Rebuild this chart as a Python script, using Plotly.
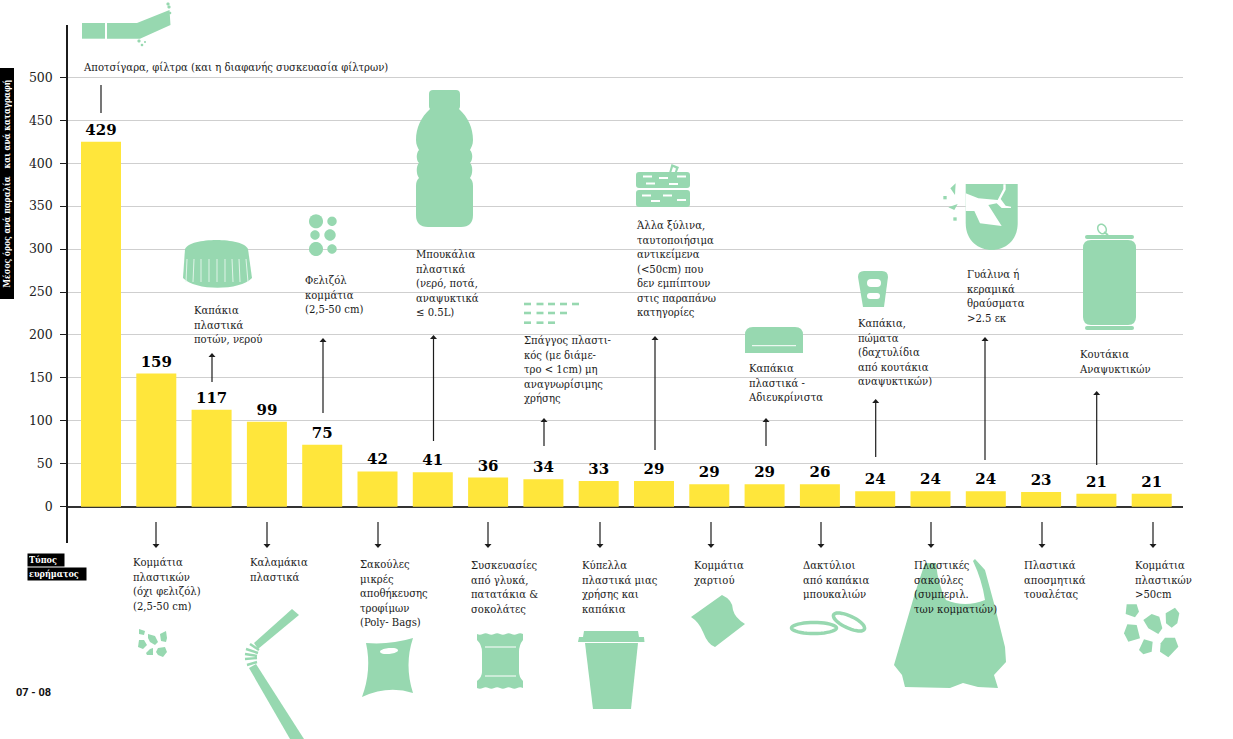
import re
import math
import plotly.graph_objects as go

# ---------- data ----------
categories = [
    "Αποτσίγαρα, φίλτρα (και η διαφανής συσκευασία φίλτρων)",
    "Κομμάτια<br>πλαστικών<br>(όχι φελιζόλ)<br>(2,5-50 cm)",
    "Καπάκια<br>πλαστικά<br>ποτών, νερού",
    "Καλαμάκια<br>πλαστικά",
    "Φελιζόλ<br>κομμάτια<br>(2,5-50 cm)",
    "Σακούλες<br>μικρές<br>αποθήκευσης<br>τροφίμων<br>(Poly- Bags)",
    "Μπουκάλια<br>πλαστικά<br>(νερό, ποτά,<br>αναψυκτικά<br>≤ 0.5L)",
    "Συσκευασίες<br>από γλυκά,<br>πατατάκια &amp;<br>σοκολάτες",
    "Σπάγγος πλαστι-<br>κός (με διάμε-<br>τρο &lt; 1cm) μη<br>αναγνωρίσιμης<br>χρήσης",
    "Κύπελλα<br>πλαστικά μιας<br>χρήσης και<br>καπάκια",
    "Άλλα ξύλινα,<br>ταυτοποιήσιμα<br>αντικείμενα<br>(&lt;50cm) που<br>δεν εμπίπτουν<br>στις παραπάνω<br>κατηγορίες",
    "Κομμάτια<br>χαρτιού",
    "Καπάκια<br>πλαστικά -<br>Αδιευκρίνιστα",
    "Δακτύλιοι<br>από καπάκια<br>μπουκαλιών",
    "Καπάκια,<br>πώματα<br>(δαχτυλίδια<br>από κουτάκια<br>αναψυκτικών)",
    "Πλαστικές<br>σακούλες<br>(συμπεριλ.<br>των κομματιών)",
    "Γυάλινα ή<br>κεραμικά<br>θραύσματα<br>&gt;2.5 εκ",
    "Πλαστικά<br>αποσμητικά<br>τουαλέτας",
    "Κουτάκια<br>Αναψυκτικών",
    "Κομμάτια<br>πλαστικών<br>&gt;50cm",
]
bar_heights = [425, 155, 113, 99, 72, 41, 40, 34, 32, 30, 30, 26, 26, 26, 18, 18, 18, 17, 15, 15]
value_labels = ["429", "159", "117", "99", "75", "42", "41", "36", "34", "33",
                "29", "29", "29", "26", "24", "24", "24", "23", "21", "21"]
y_ticks = [0, 50, 100, 150, 200, 250, 300, 350, 400, 450, 500]
y_title = "Μέσος όρος ανά παραλία\u00a0\u00a0\u00a0και ανά καταγραφή"
type_labels = ["Τύπος", "ευρήματος"]
page_label = "07 - 08"

# ---------- style / layout helpers ----------
W, H = 1233, 739
GREEN = "#97D8B0"
YELLOW = "#FFE63B"
DARK = "#1c1c1c"
SERIF = "'DejaVu Serif Condensed', 'DejaVu Serif', serif"
PLOT_L, PLOT_R, PLOT_T, PLOT_B = 68, 1183, 25, 543
ZERO_PX, PX_PER_UNIT = 506.7, 0.8588
BAR_C0, BAR_STEP, BAR_W = 101, 55.3, 40

def px(x):
    return x / W
def py(y):
    return 1 - y / H

def convert(path):
    toks = re.findall(r"[MLQCZ]|-?\d+\.?\d*", path)
    out, is_x = [], True
    for t in toks:
        if t in "MLQCZ":
            out.append(t)
            is_x = True
        else:
            v = float(t)
            out.append(f"{px(v):.5f}" if is_x else f"{py(v):.5f}")
            is_x = not is_x
    return " ".join(out)

shapes = []
def fill(path, color=GREEN):
    shapes.append(dict(type="path", xref="paper", yref="paper", path=convert(path),
                       fillcolor=color, line=dict(width=0), layer="above"))
def poly(points, color=GREEN):
    fill("M" + " L".join(f"{x:.2f},{y:.2f}" for x, y in points) + " Z", color)
def rect(x0, y0, x1, y1, color=GREEN):
    poly([(x0, y0), (x1, y0), (x1, y1), (x0, y1)], color)
def rrect(x0, y0, x1, y1, r, color=GREEN):
    fill(f"M{x0+r},{y0} L{x1-r},{y0} Q{x1},{y0} {x1},{y0+r} L{x1},{y1-r} Q{x1},{y1} {x1-r},{y1} "
         f"L{x0+r},{y1} Q{x0},{y1} {x0},{y1-r} L{x0},{y0+r} Q{x0},{y0} {x0+r},{y0} Z", color)
def seg(x0, y0, x1, y1, color=DARK, width=1.2):
    shapes.append(dict(type="line", xref="paper", yref="paper", x0=px(x0), y0=py(y0), x1=px(x1), y1=py(y1),
                       line=dict(color=color, width=width), layer="above"))
def ellipse(cx, cy, rx, ry, rot=0, n=40):
    a = math.radians(rot)
    return [(cx + rx*math.cos(t)*math.cos(a) - ry*math.sin(t)*math.sin(a),
             cy + rx*math.cos(t)*math.sin(a) + ry*math.sin(t)*math.cos(a))
            for t in [2*math.pi*i/n for i in range(n)]]
def disc(cx, cy, r, color=GREEN):
    poly(ellipse(cx, cy, r, r), color)
def ring(cx, cy, rx, ry, rot=0, width=3.5):
    pts = ellipse(cx, cy, rx, ry, rot)
    shapes.append(dict(type="path", xref="paper", yref="paper",
                       path=convert("M" + " L".join(f"{x:.1f},{y:.1f}" for x, y in pts) + " Z"),
                       line=dict(color=GREEN, width=width), layer="above"))
def crop(x0, y0, pts):
    return [(x0 + x / 3, y0 + y / 3) for x, y in pts]

# ---------- arrows ----------
seg(101, 85, 101, 113)
for x, y0, y1 in [(212, 382, 353), (323, 413, 338), (433.5, 441, 335), (544, 446, 418), (655, 450, 336),
                  (766, 446, 418), (875.7, 457, 399), (985, 460, 337), (1096.7, 465, 391)]:
    seg(x, y0, x, y1 + 2)
    poly([(x, y1), (x + 3.5, y1 + 4), (x - 3.5, y1 + 4)], DARK)
for x in [156, 267, 378, 488, 600, 711, 821, 931, 1042, 1153]:
    seg(x, 522, x, 546)
    poly([(x - 3.5, 544), (x + 3.5, 544), (x, 548)], DARK)

# ---------- pictograms ----------
# cigarette
rect(82, 23, 105, 38.7)
poly([(107, 23), (137, 23), (169.5, 10), (170.5, 25), (140, 38.7), (107, 38.7)])
for x, y, r in [(168, 4, 1.6), (169, 7, 1.6), (170, 13, 1.3), (139, 41, 1.6), (142, 45, 1.3), (145, 42, 1)]:
    disc(x, y, r)
# bottle cap
fill("M185,249 C190,237 243,237 248,249 L252,278 C240,291 195,291 183,278 Z")
for x0, x1 in [(187, 186), (194, 193), (201, 201), (209, 209), (217, 217), (225, 225), (232, 233), (239, 240), (246, 248)]:
    seg(x0, 259, x1, 282, "#e8f7ee", 0.9)
# styrofoam
for x, y, r in [(316, 221.3, 7), (332, 221.3, 4.7), (315, 235, 4.7), (330, 235, 5.7), (316, 249, 7), (332, 249, 4.7)]:
    disc(x, y, r)
# bottle
rrect(429, 90, 460, 110, 4)
fill("M430,109 C421,117 416,128 416,140 C416,145 418,148 419,150 C416,153 416,160 419,163 "
     "C416,166 416,174 419,178 C417,180 416,182 416,186 L416,215 Q416,227 428,227 L461,227 "
     "Q473,227 473,215 L473,186 C473,182 472,180 470,178 C473,174 473,166 470,163 "
     "C473,160 473,153 470,150 C471,148 473,145 473,140 C473,128 468,117 459,109 Z")
# twine
for row, xs in [(304, [524, 536.5, 548, 560, 572]), (313, [524, 536.5, 548, 560]), (322.7, [524, 536.5, 548])]:
    for x in xs:
        rect(x, row - 1.3, x + 7, row + 1.3)
# wood
rrect(636, 172, 690, 188, 3)
rrect(636, 190, 690, 207, 3)
poly([(669, 173), (671.5, 164), (679, 167), (676.5, 173), (674.5, 173), (676, 168.5), (673, 167), (671, 173)])
for x, y, w in [(643, 176.5, 9), (659, 178, 9), (677, 176.5, 9), (646, 183.5, 9), (669, 184, 9),
                (642, 195.5, 9), (663, 195.5, 9), (677, 200, 9), (651, 201, 9)]:
    rect(x, y - 1, x + w, y + 1, "white")
# generic cap
fill("M745,353 L745,335 Q745,327 753,327 L795,327 Q803,327 803,335 L803,353 Z")
seg(752, 345.7, 796, 345.7, "white", 1)
# pull-ring cap
fill("M858,277 Q858,271 864,271 L882,271 Q888,271 888,277 L884,307 L863,307 Z")
rrect(867, 279, 881, 287, 4, "white")
rrect(867, 293, 880, 299, 3, "white")
# glass
fill("M965.7,184 L1017.7,184 L1017.7,223 C1017.7,259 965.7,259 965.7,223 Z")
poly(crop(935, 175, [(92, 55), (130, 70), (188, 75), (205, 42), (205, 28), (212, 28), (212, 44), (197, 72),
                     (212, 92), (228, 95), (228, 99), (200, 99), (185, 85), (160, 90), (200, 153), (135, 145),
                     (118, 108), (92, 108)]), "white")
poly(crop(935, 175, [(62, 25), (46, 40), (60, 60)]))
poly(crop(935, 175, [(25, 63), (35, 63), (35, 73), (25, 73)]))
poly(crop(935, 175, [(68, 87), (40, 97), (58, 105)]))
poly(crop(935, 175, [(55, 127), (65, 127), (65, 137), (55, 137)]))
# can
rrect(1085, 235, 1134, 239, 2)
rrect(1083, 240, 1136, 325, 8)
rrect(1085, 326, 1134, 330, 2)
ring(1102, 229, 4, 5, -30, 1.5)
seg(1104, 232, 1108, 235, GREEN, 2)
# small fragments
for pts in [[(139, 629), (145, 631), (144, 635), (139, 634)],
            [(148, 634), (155, 636), (158, 642), (155, 645), (150, 642), (148, 638)],
            [(160, 634), (166, 631), (167, 638), (166, 642), (161, 641)],
            [(139, 640), (144, 640), (147, 645), (143, 649), (138, 647)],
            [(150, 649), (153, 648), (153, 655), (147, 655), (146, 653)],
            [(158, 648), (165, 647), (167, 652), (163, 657), (158, 655), (156, 652)]]:
    poly(pts)
# straw
poly([(292, 609), (299, 615), (258, 649), (254, 643)])
poly([(249, 668), (256, 664), (304, 739), (290, 739)])
for x0, y0, x1, y1 in [(250, 644, 259, 650), (246, 649, 258, 653), (245, 654, 257, 656), (245, 659, 257, 658), (247, 665, 257, 662)]:
    seg(x0, y0, x1, y1, GREEN, 2.4)
# small bag
fill("M366,643 Q390,645 413,638 Q404,665 413,693 Q388,685 362,697 Q372,670 366,643 Z")
poly(ellipse(389, 651, 9, 3, -5), "white")
# snack pack
top = "M477,634 " + " ".join(f"Q{477+2.9+5.75*i:.1f},{632.5 + 3*((i+1)%2)} {477+5.75*(i+1):.1f},634" for i in range(8))
bot = " ".join(f"Q{523-2.9-5.75*i:.1f},{686.5 + 3*(i%2)} {523-5.75*(i+1):.1f},688" for i in range(8))
fill(top + " L523,640 Q519,645 519,652 L519,672 Q519,677 523,681 L523,688 " + bot + " L477,681 Q482,677 482,672 L482,652 Q482,645 477,640 Z")
seg(485, 647, 516, 647, "white", 1)
seg(485, 676, 516, 676, "white", 1)
# cup
poly([(584, 631), (638, 631), (639, 637), (583, 637)])
poly([(579, 637), (644, 637), (644.5, 642), (578, 642)])
poly([(585, 643), (638, 643), (631, 709), (593, 709)])
# paper scrap
fill("M691,617 L722,595 Q733,600 733,610 Q735,618 745,624 L715,647 Q708,645 703,632 Q699,622 691,617 Z")
# rings
ring(814, 628, 22.5, 5.5)
ring(849, 622, 17, 6, 25)
# large bag
fill("M975,559 L985,570 L995,607 L1005,647 L1006,662 L994,675 L998,688 L978,687 L963,683 L950,688 L905,687 "
     "L902,675 L894,665 L915,593 L925,563 L936,563 Q938,585 946,600 Q965,608 985,600 Q982,580 973,561 Z")
# large fragments
for pts in [[(1010, 283), (1040, 283), (1047, 305), (1035, 322), (1007, 312)],
            [(1085, 312), (1108, 320), (1117, 355), (1105, 372), (1075, 355), (1060, 330)],
            [(1155, 293), (1168, 310), (1162, 340), (1145, 353), (1128, 340), (1127, 310)],
            [(1012, 343), (1040, 345), (1050, 385), (1015, 395), (1002, 370)],
            [(1062, 388), (1088, 395), (1085, 425), (1060, 433), (1047, 420)],
            [(1125, 383), (1155, 383), (1165, 410), (1135, 442), (1110, 425), (1112, 400)]]:
    poly(crop(790, 510, pts))

# ---------- text ----------
label_pos = [(82, 60), (132, 555), (193, 303), (249, 555), (304, 273), (359, 557), (415, 247), (470, 558),
             (523, 333), (581, 558), (635, 218), (693, 558), (747, 361), (802, 558), (857, 316), (913, 558),
             (966, 267), (1023, 558), (1078, 347), (1134, 558)]
ann = []
for text, (x, y) in zip(categories, label_pos):
    ann.append(dict(xref="paper", yref="paper", x=px(x), y=py(y), xanchor="left", yanchor="top",
                    align="left", text=text, showarrow=False, borderpad=0,
                    font=dict(family=SERIF, size=11.2, color="#1a1a1a")))
ann.append(dict(xref="paper", yref="paper", x=px(7), y=py(183.5), textangle=-90, text=f"<b>{y_title}</b>", showarrow=False,
                xanchor="center", yanchor="middle", bgcolor="black", borderpad=1, width=228, height=11,
                font=dict(family=SERIF, size=8.5, color="white")))
for text, x, y, w in zip(type_labels, [27, 27], [560, 574], [36, 58]):
    ann.append(dict(xref="paper", yref="paper", x=px(x), y=py(y), xanchor="left", yanchor="middle", align="left",
                    text=f"<b>{text}</b>", showarrow=False, bgcolor="black", borderpad=1, width=w - 2,
                    font=dict(family=SERIF, size=9, color="white")))
ann.append(dict(xref="paper", yref="paper", x=px(14), y=py(692), xanchor="left", yanchor="middle",
                text=f"<b>{page_label}</b>", showarrow=False,
                font=dict(family="'Liberation Sans Narrow', 'Roboto', sans-serif", size=11, color="#111")))

# ---------- figure ----------
fig = go.Figure(go.Bar(
    x=categories, y=bar_heights, width=BAR_W / BAR_STEP, marker=dict(color=YELLOW, line=dict(width=0)),
    text=[f"<b>{v}</b>" for v in value_labels], textposition="outside", cliponaxis=False,
    textfont=dict(family="'DejaVu Serif', serif", size=15, color="black"), textangle=0,
    hoverinfo="x+y", showlegend=False))

fig.update_layout(
    width=W, height=H, margin=dict(l=0, r=0, t=0, b=0), autosize=False,
    paper_bgcolor="white", plot_bgcolor="white", shapes=shapes, annotations=ann,
    xaxis=dict(domain=[px(PLOT_L), px(PLOT_R)], type="category", categoryorder="array", categoryarray=categories,
               range=[(PLOT_L - BAR_C0) / BAR_STEP, (PLOT_R - BAR_C0) / BAR_STEP],
               showticklabels=False, ticks="", showgrid=False, zeroline=False, showline=False),
    yaxis=dict(domain=[py(PLOT_B), py(PLOT_T)],
               range=[(ZERO_PX - PLOT_B) / PX_PER_UNIT, (ZERO_PX - PLOT_T) / PX_PER_UNIT],
               tickmode="array", tickvals=y_ticks, ticktext=[str(v) for v in y_ticks],
               ticks="outside", ticklen=6, tickcolor=DARK, tickwidth=1,
               tickfont=dict(family="'DejaVu Serif', serif", size=12.5, color="#222"), ticklabelstandoff=5,
               showgrid=True, gridcolor="#cfcfcf", gridwidth=1,
               zeroline=True, zerolinecolor="#333", zerolinewidth=1.5,
               showline=True, linecolor=DARK, linewidth=1.5),
)
fig.write_html("out.html", config={"displayModeBar": False},
               post_script="document.body.style.margin='0';window.dispatchEvent(new Event('resize'));")
